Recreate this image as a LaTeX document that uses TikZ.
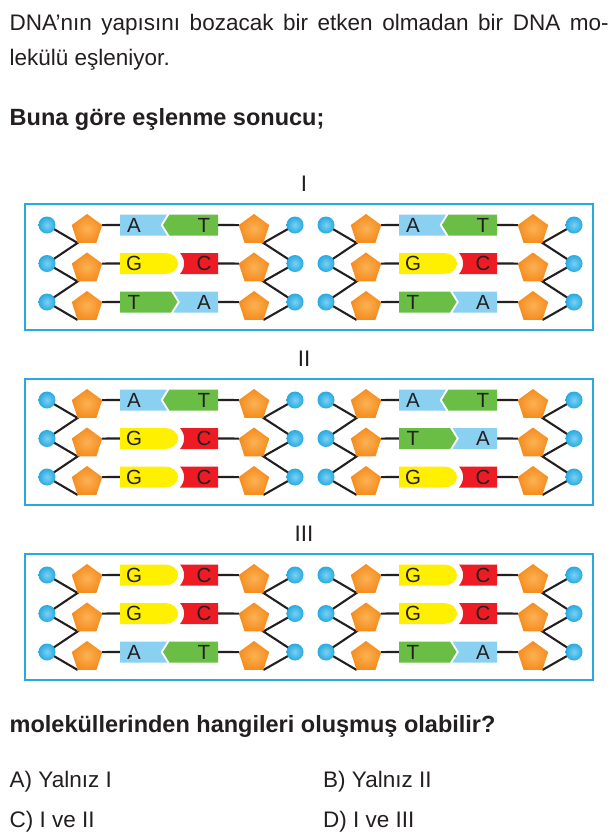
\documentclass[tikz,border=0pt]{standalone}
\usepackage{fontspec}
\setmainfont{Liberation Sans}
\usetikzlibrary{shapes.geometric}
\pgfdeclarelayer{back}
\pgfdeclarelayer{bg}
\pgfsetlayers{back,bg,main}
\definecolor{cyanB}{RGB}{39,170,225}
\definecolor{cyanL}{RGB}{125,208,243}
\definecolor{orD}{RGB}{245,140,30}
\definecolor{orL}{RGB}{251,178,85}
\definecolor{baseA}{RGB}{138,208,240}
\definecolor{baseT}{RGB}{106,189,69}
\definecolor{baseG}{RGB}{255,240,0}
\definecolor{baseC}{RGB}{237,28,36}
\definecolor{ink}{RGB}{35,31,32}
\tikzset{
 phos/.style={circle, minimum size=17pt, inner sep=0pt, outer sep=0pt, shading=radial, inner color=cyanL, outer color=cyanB},
 sugar/.style={regular polygon, regular polygon sides=5, minimum size=32pt, inner sep=0pt, outer sep=0pt, shading=radial, inner color=orL, outer color=orD},
 bb/.style={draw=ink, line width=2.1pt},
 frame/.style={draw=cyanB, line width=2.8pt},
 letter/.style={font=\fontsize{20.5}{20.5}\selectfont, text=ink, inner sep=0pt},
 txt/.style={font=\fontsize{22.5}{27}\selectfont, text=ink, anchor=base west, inner sep=0pt},
 btxt/.style={font=\fontsize{23.5}{28}\selectfont\bfseries, text=ink, anchor=base west, inner sep=0pt},
}
\newcommand\pairAT[1]{%
 \fill[baseA] (73,-10.5) -- (120,-10.5) -- (113.5,0) -- (120,10.5) -- (73,10.5) -- cycle;
 \fill[baseT] (122.5,-10.5) -- (171,-10.5) -- (171,10.5) -- (122.5,10.5) -- (116,0) -- cycle;
 \node[letter] (#1-l) at (87,0) {A};
 \node[letter] (#1-r) at (157,0) {T};
}
\newcommand\pairTA[1]{%
 \fill[baseT] (73,-10.5) -- (124,-10.5) -- (130.5,0) -- (124,10.5) -- (73,10.5) -- cycle;
 \fill[baseA] (126.5,-10.5) -- (171,-10.5) -- (171,10.5) -- (126.5,10.5) -- (133,0) -- cycle;
 \node[letter] (#1-l) at (87,0) {T};
 \node[letter] (#1-r) at (157,0) {A};
}
\newcommand\pairGC[1]{%
 \fill[baseG] (73,-10.5) -- (118,-10.5) .. controls (125.2,-10.5) and (131,-5.8) .. (131,0)
   .. controls (131,5.8) and (125.2,10.5) .. (118,10.5) -- (73,10.5) -- cycle;
 \fill[baseC] (133,-10.5) -- (171,-10.5) -- (171,10.5) -- (133,10.5)
   .. controls (138.5,4.2) and (138.5,-4.2) .. (133,-10.5) -- cycle;
 \node[letter] (#1-l) at (87,0) {G};
 \node[letter] (#1-r) at (157,0) {C};
}
\newcommand\molecule[6]{%
 \begin{scope}[shift={(#2,#3)}]
  \begin{scope}[shift={(0,0)}] #4{#1-b1} \end{scope}
  \begin{scope}[shift={(0,38.5)}] #5{#1-b2} \end{scope}
  \begin{scope}[shift={(0,77)}] #6{#1-b3} \end{scope}
  \foreach \i/\yy in {1/0,2/38.5,3/77}{
    \node[phos] (#1-pl\i) at (0,\yy) {};
    \node[sugar] (#1-sl\i) at (40,\yy+5) {};
    \node[sugar] (#1-sr\i) at (207,\yy+5) {};
    \node[phos] (#1-pr\i) at (248,\yy) {};
    \coordinate (#1-bl\i) at (73,\yy);
    \coordinate (#1-br\i) at (171,\yy);
  }
  \begin{pgfonlayer}{bg}
   \draw[bb] (#1-pl1.center) -- (#1-sl1.corner 3) -- (#1-pl2.center) -- (#1-sl2.corner 3) -- (#1-pl3.center) -- (#1-sl3.corner 3);
   \draw[bb] (#1-pr1.center) -- (#1-sr1.corner 4) -- (#1-pr2.center) -- (#1-sr2.corner 4) -- (#1-pr3.center) -- (#1-sr3.corner 4);
   \foreach \i in {1,2,3}{
     \draw[bb] (#1-sl\i.corner 5) -- (#1-bl\i);
     \draw[bb] (#1-br\i) -- (#1-sr\i.corner 2);
   }
  \end{pgfonlayer}
 \end{scope}
}
\begin{document}
\begin{tikzpicture}[x=1pt,y=-1pt]
\begin{pgfonlayer}{back}
 \fill[white] (0,0) rectangle (615,836);
\end{pgfonlayer}
\useasboundingbox (0,0) rectangle (615,836);
% texts
\node[txt] (l1) at (9.5,30) {\makebox[599pt][s]{DNA’nın yapısını bozacak bir etken olmadan bir DNA mo-}};
\node[txt] (l2) at (9.5,65) {lekülü eşleniyor.};
\node[btxt] (l3) at (9.5,125) {Buna göre eşlenme sonucu;};
\node[txt, anchor=base] (lab1) at (304,191) {I};
\node[txt, anchor=base] (lab2) at (304,366) {II};
\node[txt, anchor=base] (lab3) at (304,541) {III};
% frames
\draw[frame] (25,204) rectangle (593,330);
\draw[frame] (25,379) rectangle (593,505);
\draw[frame] (25,554) rectangle (593,680);
% molecules
\molecule{m11}{47}{225}{\pairAT}{\pairGC}{\pairTA}
\molecule{m12}{326}{225}{\pairAT}{\pairGC}{\pairTA}
\molecule{m21}{47}{400}{\pairAT}{\pairGC}{\pairGC}
\molecule{m22}{326}{400}{\pairAT}{\pairTA}{\pairGC}
\molecule{m31}{47}{575}{\pairGC}{\pairGC}{\pairAT}
\molecule{m32}{326}{575}{\pairGC}{\pairGC}{\pairTA}
% question and options
\node[btxt] (q) at (9.5,732) {moleküllerinden hangileri oluşmuş olabilir?};
\node[txt] (oA) at (9.5,787) {A) Yalnız I};
\node[txt] (oB) at (323,787) {B) Yalnız II};
\node[txt] (oC) at (9.5,827) {C) I ve II};
\node[txt] (oD) at (323,827) {D) I ve III};
\end{tikzpicture}
\end{document}
